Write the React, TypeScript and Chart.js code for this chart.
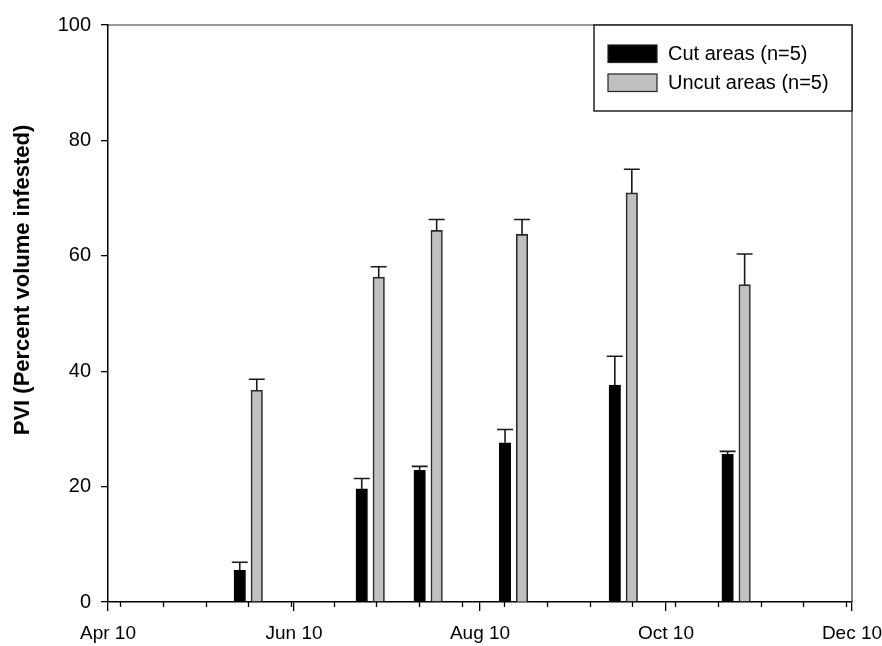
import React, { useEffect, useRef } from 'react';
import { Chart, registerables } from 'chart.js';

Chart.register(...registerables);

// ---- data ----
const sampleDates = ['2010-05-17', '2010-06-26', '2010-07-15', '2010-08-12', '2010-09-17', '2010-10-24'];
const cutValues = [5.5, 19.6, 22.8, 27.6, 37.6, 25.6];
const cutErrors = [1.4, 1.8, 0.7, 2.3, 5.0, 0.5];
const uncutValues = [36.7, 56.3, 64.4, 63.7, 70.9, 55.0];
const uncutErrors = [1.9, 1.8, 1.9, 2.6, 4.1, 5.3];
const seriesLabels = ['Cut areas (n=5)', 'Uncut areas (n=5)'];
const majorTickDates = ['2010-04-01', '2010-06-01', '2010-08-01', '2010-10-01', '2010-12-01'];
const majorTickLabels = ['Apr 10', 'Jun 10', 'Aug 10', 'Oct 10', 'Dec 10'];
const minorTickStart = '2010-04-05';
const minorTickStepDays = 14;
const yTickValues = [0, 20, 40, 60, 80, 100];
const yTitle = 'PVI (Percent volume infested)';

const ORIGIN = Date.parse('2010-04-01T00:00:00Z');
const dayOf = (d: string) => Math.round((Date.parse(d + 'T00:00:00Z') - ORIGIN) / 86400000);

const majorDays = majorTickDates.map(dayOf);
const xMin = majorDays[0];
const xMax = majorDays[majorDays.length - 1];
const errorSets = [cutErrors, uncutErrors];

const FONT = '"Liberation Sans", Arial, Helvetica, sans-serif';

const decorPlugin = {
  id: 'decor',
  afterDatasetsDraw(chart: any) {
    const ctx = chart.ctx;
    const ys = chart.scales.y;
    ctx.save();
    ctx.strokeStyle = '#1a1a1a';
    ctx.lineWidth = 1.6;
    chart.data.datasets.forEach((ds: any, di: number) => {
      const meta = chart.getDatasetMeta(di);
      const errs = errorSets[di];
      meta.data.forEach((bar: any, i: number) => {
        const v = ds.data[i].y;
        const top = ys.getPixelForValue(v);
        const end = ys.getPixelForValue(v + errs[i]);
        ctx.beginPath();
        ctx.moveTo(bar.x, top);
        ctx.lineTo(bar.x, end);
        ctx.moveTo(bar.x - 8, end);
        ctx.lineTo(bar.x + 8, end);
        ctx.stroke();
      });
    });
    ctx.restore();
  },
  afterDraw(chart: any) {
    const ctx = chart.ctx;
    const area = chart.chartArea;
    const xs = chart.scales.x;
    ctx.save();
    // top & right frame
    ctx.strokeStyle = '#333';
    ctx.lineWidth = 1.2;
    ctx.beginPath();
    ctx.moveTo(area.left, area.top);
    ctx.lineTo(area.right, area.top);
    ctx.lineTo(area.right, area.bottom);
    ctx.stroke();
    // minor ticks
    ctx.strokeStyle = '#000';
    ctx.lineWidth = 1.3;
    ctx.beginPath();
    for (let d = dayOf(minorTickStart); d < xMax; d += minorTickStepDays) {
      const px = Math.round(xs.getPixelForValue(d)) + 0.5;
      ctx.moveTo(px, area.bottom);
      ctx.lineTo(px, area.bottom + 5);
    }
    ctx.stroke();
    // legend
    const bw = 258, bh = 86;
    const bx = area.right - bw, by = area.top;
    ctx.fillStyle = '#fff';
    ctx.fillRect(bx, by, bw, bh);
    ctx.strokeStyle = '#222';
    ctx.lineWidth = 1.5;
    ctx.strokeRect(bx, by, bw, bh);
    const fills = ['#000', '#c0c0c0'];
    ctx.font = `20px ${FONT}`;
    ctx.textBaseline = 'middle';
    ctx.textAlign = 'left';
    seriesLabels.forEach((lab, i) => {
      const sy = by + 20 + i * 29;
      ctx.fillStyle = fills[i];
      ctx.fillRect(bx + 14, sy, 49, 17.5);
      ctx.strokeStyle = '#222';
      ctx.lineWidth = 1.2;
      ctx.strokeRect(bx + 14, sy, 49, 17.5);
      ctx.fillStyle = '#000';
      ctx.fillText(lab, bx + 74, sy + 9);
    });
    // y title
    ctx.save();
    ctx.translate(23, 280);
    ctx.rotate(-Math.PI / 2);
    ctx.font = `bold 22px ${FONT}`;
    ctx.textAlign = 'center';
    ctx.textBaseline = 'middle';
    ctx.fillStyle = '#000';
    ctx.fillText(yTitle, 0, 0);
    ctx.restore();
    ctx.restore();
  },
};

export default function App() {
  const ref = useRef<HTMLCanvasElement>(null);
  useEffect(() => {
    if (!ref.current) return;
    const chart = new Chart(ref.current, {
      type: 'bar',
      data: {
        datasets: [
          {
            label: seriesLabels[0],
            data: sampleDates.map((d, i) => ({ x: dayOf(d), y: cutValues[i] })),
            backgroundColor: '#000',
            borderColor: '#000',
            borderWidth: 1,
          },
          {
            label: seriesLabels[1],
            data: sampleDates.map((d, i) => ({ x: dayOf(d), y: uncutValues[i] })),
            backgroundColor: '#c0c0c0',
            borderColor: '#2a2a2a',
            borderWidth: 1.6,
          },
        ],
      },
      options: {
        responsive: false,
        animation: false,
        barThickness: 17,
        maxBarThickness: 11.5,
        layout: { padding: { left: 0, top: 25, right: 30, bottom: 0 } },
        plugins: { legend: { display: false }, tooltip: { enabled: false } },
        scales: {
          x: {
            type: 'linear',
            min: xMin,
            max: xMax,
            offset: false,
            afterBuildTicks: (s: any) => {
              s.ticks = majorDays.map((v) => ({ value: v }));
            },
            afterFit: (s: any) => {
              s.height = 44;
              s.paddingLeft = 0;
              s.paddingRight = 0;
            },
            grid: { display: true, offset: false, drawOnChartArea: false, drawTicks: true, tickLength: 9, color: '#000', lineWidth: 1.3 },
            border: { display: true, color: '#000', width: 1.5 },
            ticks: {
              autoSkip: false,
              maxRotation: 0,
              padding: 11,
              color: '#000',
              font: { family: FONT, size: 19 },
              callback: (v: any) => {
                const idx = majorDays.indexOf(Number(v));
                return idx >= 0 ? majorTickLabels[idx] : '';
              },
            },
          },
          y: {
            min: 0,
            max: 100,
            afterBuildTicks: (s: any) => {
              s.ticks = yTickValues.map((v) => ({ value: v }));
            },
            afterFit: (s: any) => {
              s.width = 108;
              s.paddingTop = 0;
              s.paddingBottom = 0;
            },
            grid: { display: true, offset: false, drawOnChartArea: false, drawTicks: true, tickLength: 7, color: '#000', lineWidth: 1.3 },
            border: { display: true, color: '#000', width: 1.5 },
            ticks: {
              padding: 10,
              color: '#000',
              font: { family: FONT, size: 20 },
            },
          },
        },
      } as any,
      plugins: [decorPlugin],
    });
    return () => chart.destroy();
  }, []);
  return (
    <div style={{ position: 'fixed', left: 0, top: 0, width: 882, height: 646, background: '#fff' }}>
      <canvas ref={ref} width={882} height={646} style={{ display: 'block' }} />
    </div>
  );
}
